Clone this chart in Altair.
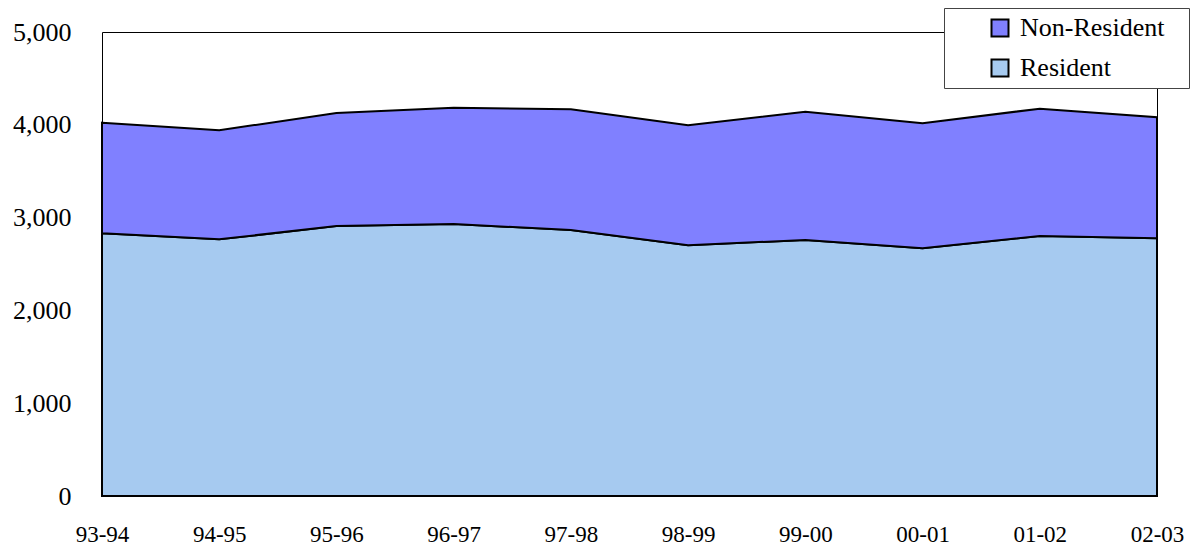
import altair as alt
import pandas as pd

years = ["93-94", "94-95", "95-96", "96-97", "97-98", "98-99", "99-00", "00-01", "01-02", "02-03"]
resident = [2831, 2766, 2909, 2931, 2866, 2701, 2759, 2669, 2802, 2777]
non_resident = [1192, 1175, 1218, 1253, 1301, 1293, 1382, 1347, 1372, 1304]
series = ["Non-Resident", "Resident"]
colors = ["#8080FF", "#A6CAF0"]

rows = []
for i, y in enumerate(years):
    rows.append({"year": y, "series": "Resident", "value": resident[i], "ord": 0})
    rows.append({"year": y, "series": "Non-Resident", "value": non_resident[i], "ord": 1})
df = pd.DataFrame(rows)

FONT = "Liberation Serif"

chart = alt.Chart(df).mark_area(stroke="black", strokeWidth=2, opacity=1, fillOpacity=1).encode(
    x=alt.X("year:O", sort=years, scale=alt.Scale(type="point", padding=0),
            axis=alt.Axis(title=None, labelAngle=0, domain=False, ticks=False, grid=False,
                          labelPadding=27, labelFontSize=23, labelFont=FONT, labelColor="black")),
    y=alt.Y("value:Q", stack="zero", scale=alt.Scale(domain=[0, 5000], nice=False),
            axis=alt.Axis(title=None, values=[0, 1000, 2000, 3000, 4000, 5000], format=",.0f",
                          domain=False, ticks=False, grid=False, labelPadding=31,
                          labelFontSize=26, labelFont=FONT, labelColor="black")),
    color=alt.Color("series:N", scale=alt.Scale(domain=series, range=colors),
                    legend=alt.Legend(title="\u00a0", titleOrient="right", titlePadding=18,
                                      titleFontSize=26, titleFont=FONT,
                                      orient="none", legendX=842, legendY=-24,
                                      symbolType="square", symbolSize=289, symbolStrokeColor="black",
                                      symbolStrokeWidth=2, symbolOffset=36, labelOffset=7,
                                      labelFontSize=26, labelFont=FONT, labelColor="black",
                                      padding=7, rowPadding=14, strokeColor="#444444",
                                      fillColor="white", labelLimit=400)),
    order=alt.Order("ord:Q", sort="ascending"),
).properties(
    width=1055, height=464,
    autosize=alt.AutoSizeParams(type="none"),
    padding={"left": 94, "top": 24, "right": 39, "bottom": 56},
    background="white",
).configure_view(stroke="black", strokeWidth=1)

chart.save("out.html", embed_options={"renderer": "svg", "actions": False})
